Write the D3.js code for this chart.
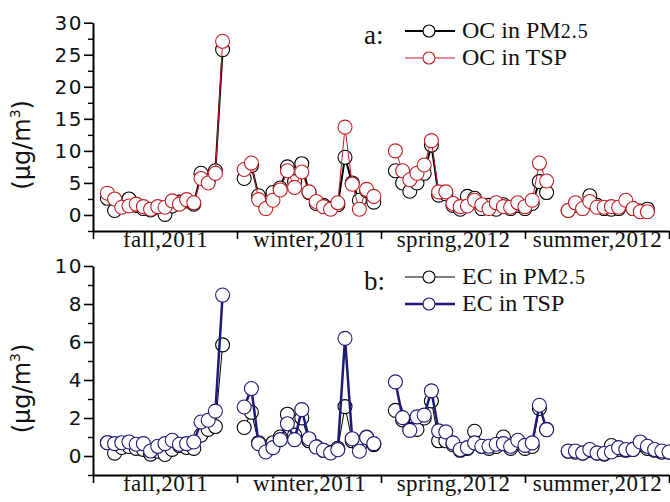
<!DOCTYPE html>
<html><head><meta charset="utf-8">
<script src="https://cdn.jsdelivr.net/npm/d3@7"></script>
<style>
html,body{margin:0;padding:0;background:#fff;}
svg{display:block;}
</style></head>
<body>
<svg id="chart" width="670" height="502"></svg>
<script>
// ---- data ----
const seasons = ["fall,2011", "winter,2011", "spring,2012", "summer,2012"];
// sample index 0..78; null = no sample (gap between seasons)
const ocPM25 = [2.6,0.7,1.6,2.5,1.5,1.0,0.8,1.2,0.1,1.4,2.0,2.2,1.7,6.5,5.3,6.9,25.8, null,null,
  5.7,7.7,3.0,1.5,3.5,4.2,7.5,5.2,8.0,3.5,1.8,1.5,1.0,1.6,9.0,5.0,2.3,3.8,2.0, null,null,
  6.9,5.0,3.7,5.0,6.5,10.9,3.1,3.3,1.5,0.9,2.9,2.6,1.0,1.5,0.9,1.6,1.0,1.5,1.0,1.8,5.2,3.5, null,null,
  0.7,1.5,1.2,3.0,1.5,1.0,0.9,1.0,1.8,1.0,0.6,0.9];
const ocTSP = [3.4,2.5,1.2,1.4,1.7,1.3,0.9,1.3,1.2,2.2,1.7,2.4,1.9,5.7,5.0,6.5,27.1, null,null,
  7.1,8.1,2.4,1.0,2.3,3.9,6.9,4.3,6.7,3.6,2.1,1.3,0.9,1.9,13.7,4.8,0.9,4.0,2.9, null,null,
  10.0,6.9,5.5,6.5,7.8,11.6,3.6,3.6,1.8,1.3,1.4,2.3,1.6,1.0,1.9,1.3,1.2,1.9,1.3,2.3,8.1,5.3, null,null,
  0.7,1.9,1.0,2.1,1.2,1.2,1.3,1.2,2.3,1.0,0.5,0.5];
const ecPM25 = [0.7,0.15,0.45,0.5,0.4,0.35,0.1,0.25,0.08,0.35,0.55,0.45,0.4,1.1,1.4,1.55,5.85, null,null,
  1.5,2.3,0.7,0.3,0.7,1.0,2.2,1.1,2.0,0.8,0.5,0.3,0.2,0.4,2.6,0.8,0.5,1.0,0.6, null,null,
  2.4,1.9,1.4,1.4,2.0,2.9,0.8,0.8,0.6,0.3,0.4,1.3,0.5,0.4,0.5,1.0,0.4,0.7,0.4,0.5,2.5,1.4, null,null,
  0.25,0.2,0.15,0.3,0.15,0.1,0.55,0.35,0.3,0.35,0.6,0.4,0.3,0.2,0.2];
const ecTSP = [0.70,0.65,0.70,0.74,0.62,0.65,0.26,0.51,0.65,0.83,0.62,0.65,0.74,1.79,1.88,2.36,8.47, null,null,
  2.58,3.55,0.65,0.21,0.44,0.86,1.70,0.86,2.44,0.91,0.47,0.30,0.16,0.33,6.19,0.91,0.25,0.97,0.65, null,null,
  3.90,2.02,1.35,2.06,2.15,3.43,1.32,1.27,0.69,0.34,0.44,0.69,0.51,0.51,0.62,0.65,0.51,0.83,0.56,0.69,2.67,1.39, null,null,
  0.26,0.26,0.16,0.34,0.16,0.13,0.21,0.44,0.34,0.34,0.74,0.51,0.34,0.26,0.21];
const topTicks = [0,5,10,15,20,25,30];
const botTicks = [0,2,4,6,8,10];

// ---- layout ----
const svg = d3.select("#chart");
const SERIF = "'Liberation Serif','Times New Roman',serif";
const SANS = "'DejaVu Sans',sans-serif";
const X0 = 93, X1 = 669;
const x = d3.scaleLinear().domain([-2, 78]).range([X0, X1]);
const xs = d3.scaleLinear().domain([0, seasons.length]).range([X0, X1]);

function panel(cfg) {
  const y = d3.scaleLinear().domain(cfg.domain).range([cfg.bottom, cfg.top]);
  const g = svg.append("g");
  // y axis major
  const ya = g.append("g").attr("transform", `translate(${X0},0)`)
    .call(d3.axisLeft(y).tickValues(cfg.ticks).tickSize(9).tickSizeOuter(0).tickPadding(1))
  ya.select(".domain").attr("stroke-width", 2);
  ya.selectAll(".tick line").attr("stroke-width", 1.6);
  ya.selectAll(".tick text").attr("font-family", SANS).attr("font-size", 20)
    .attr("letter-spacing", 1.5).attr("fill", "#111");
  // y minor
  g.append("g").attr("transform", `translate(${X0},0)`)
    .call(d3.axisLeft(y).tickValues(cfg.minor).tickSize(5).tickFormat(""))
    .call(s => s.select(".domain").remove())
    .selectAll(".tick line").attr("stroke-width", 1.4);
  // x axis
  const xa = g.append("g").attr("transform", `translate(0,${cfg.bottom})`)
    .call(d3.axisBottom(xs).tickValues(d3.range(seasons.length + 1)).tickSize(8).tickSizeOuter(0).tickFormat(""));
  xa.select(".domain").attr("stroke-width", 2);
  xa.selectAll(".tick line").attr("stroke-width", 1.6);
  g.append("g").attr("transform", `translate(0,${cfg.bottom})`)
    .call(d3.axisBottom(xs).tickValues(seasons.map((d, i) => i + 0.5)).tickSize(0).tickPadding(0)
      .tickFormat((d, i) => seasons[i]))
    .call(s => s.select(".domain").remove())
    .selectAll("text").attr("font-family", SERIF).attr("font-size", 23)
    .attr("letter-spacing", 0.4).attr("fill", "#111");
  // y title
  const yt = g.append("text")
    .attr("transform", `translate(${cfg.titleX},${(cfg.top + cfg.bottom) / 2 + 18}) rotate(-90)`)
    .attr("text-anchor", "middle").attr("font-family", SANS).attr("font-size", 24).attr("fill", "#111");
  yt.append("tspan").text("(μg/m");
  yt.append("tspan").attr("dy", -10).attr("font-size", 14).text("3");
  yt.append("tspan").attr("dy", 10).text(")");

  // series
  cfg.series.forEach(s => {
    const pts = s.data.map((v, i) => ({ i, v })).filter(d => d.v != null);
    const line = d3.line().defined(d => d.v != null).x(d => x(d.i)).y(d => y(d.v));
    g.append("path").datum(s.data.map((v, i) => ({ i, v })))
      .attr("d", line).attr("fill", "none").attr("stroke", s.color).attr("stroke-width", s.lw);
    g.append("g").selectAll("circle").data(pts).join("circle")
      .attr("cx", d => x(d.i)).attr("cy", d => y(d.v)).attr("r", 7)
      .attr("fill", "#fff").attr("stroke", s.color).attr("stroke-width", 1.1);
  });

  // legend
  const lg = g.append("g");
  lg.append("text").attr("x", 364).attr("y", cfg.legY + 13).attr("font-family", SERIF)
    .attr("font-size", 27).attr("fill", "#111").text(cfg.tag);
  cfg.series.forEach((s, k) => {
    const yy = cfg.legY + k * 27;
    lg.append("line").attr("x1", 405).attr("x2", 455).attr("y1", yy).attr("y2", yy)
      .attr("stroke", s.color).attr("stroke-width", s.lw);
    lg.append("circle").attr("cx", 429).attr("cy", yy).attr("r", 6)
      .attr("fill", "#fff").attr("stroke", s.color).attr("stroke-width", 1.1);
    const t = lg.append("text").attr("x", 462).attr("y", yy + 7).attr("font-family", SERIF)
      .attr("font-size", 24).attr("fill", "#111");
    t.append("tspan").text(s.label);
    if (s.sub) t.append("tspan").attr("font-size", 20).attr("letter-spacing", 1).text(s.sub);
  });
}

panel({
  domain: [-2.5, 30], top: 22.7, bottom: 231, ticks: topTicks,
  minor: d3.range(-2.5, 30, 5), titleX: 30, tag: "a:", legY: 31,
  series: [
    { data: ocPM25, color: "#000", lw: 2, label: "OC in PM", sub: "2.5" },
    { data: ocTSP, color: "#c41c24", lw: 1, label: "OC in TSP" }
  ]
});
panel({
  domain: [-1, 10], top: 266, bottom: 475, ticks: botTicks,
  minor: d3.range(-1, 10, 2), titleX: 30, tag: "b:", legY: 277,
  series: [
    { data: ecPM25, color: "#000", lw: 1, label: "EC in PM", sub: "2.5" },
    { data: ecTSP, color: "#1e1a78", lw: 2.5, label: "EC in TSP" }
  ]
});
</script>
</body></html>
